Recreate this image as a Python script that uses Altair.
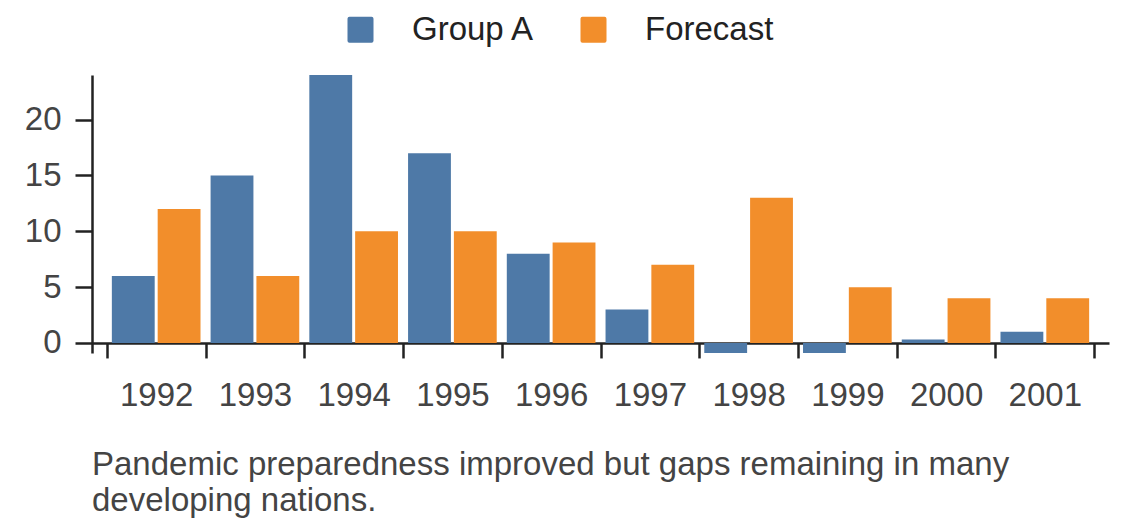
import altair as alt
import pandas as pd

years = ["1992", "1993", "1994", "1995", "1996", "1997", "1998", "1999", "2000", "2001"]
group_a = [6, 15, 24, 17, 8, 3, -0.9, -0.9, 0.3, 1]
forecast = [12, 6, 10, 10, 9, 7, 13, 5, 4, 4]
series_names = ["Group A", "Forecast"]
series_colors = ["#4e79a7", "#f28e2b"]
caption = ["Pandemic preparedness improved but gaps remaining in many",
           "developing nations."]

rows = []
for y, a, f in zip(years, group_a, forecast):
    rows.append({"year": y, "series": "Group A", "value": a})
    rows.append({"year": y, "series": "Forecast", "value": f})
df = pd.DataFrame(rows)

FONT = "Liberation Sans"
FS = 33
W, H = 1017, 278
ymin, ymax = -0.9, 24
x_offset = -H * (0 - ymin) / (ymax - ymin)

rounded = ("M-0.85,-1L0.85,-1Q1,-1 1,-0.85L1,0.85Q1,1 0.85,1"
           "L-0.85,1Q-1,1 -1,0.85L-1,-0.85Q-1,-1 -0.85,-1Z")

axis_common = dict(labelFontSize=FS, labelFont=FONT, labelColor="#444",
                   domainColor="#222", tickColor="#222",
                   tickWidth=2.5, domainWidth=2.5, grid=False)

chart = alt.Chart(df).mark_bar().encode(
    x=alt.X("year:N", sort=years, title=None,
            scale=alt.Scale(paddingInner=0, paddingOuter=0.15),
            axis=alt.Axis(tickBand="extent", labelAngle=0,
                          labelPadding=22, tickSize=15, offset=x_offset,
                          **axis_common)),
    xOffset=alt.XOffset("series:N", sort=series_names,
                        scale=alt.Scale(paddingInner=0.065, paddingOuter=0.11)),
    y=alt.Y("value:Q", title=None,
            scale=alt.Scale(domain=[ymin, ymax], nice=False, zero=False),
            axis=alt.Axis(values=[0, 5, 10, 15, 20],
                          labelPadding=14, tickSize=17, **axis_common)),
    color=alt.Color("series:N", sort=series_names,
                    scale=alt.Scale(domain=series_names, range=series_colors),
                    legend=alt.Legend(title=None, orient="none", direction="horizontal",
                                      legendX=252, legendY=-62, symbolType=rounded,
                                      symbolSize=676, symbolStrokeWidth=0,
                                      labelFontSize=FS, labelFont=FONT,
                                      labelOffset=35, columnPadding=42,
                                      labelColor="#222", padding=0)),
).properties(
    width=W, height=H,
    title=alt.TitleParams(text=caption, orient="bottom", anchor="start",
                          frame="group", fontSize=FS, fontWeight="normal",
                          color="#444", lineHeight=36, offset=36, font=FONT),
    padding={"left": 16, "top": 5, "right": 5, "bottom": 5},
).configure_view(stroke="transparent", strokeWidth=0)

chart.save("out.html", embed_options={"renderer": "svg", "actions": False})
